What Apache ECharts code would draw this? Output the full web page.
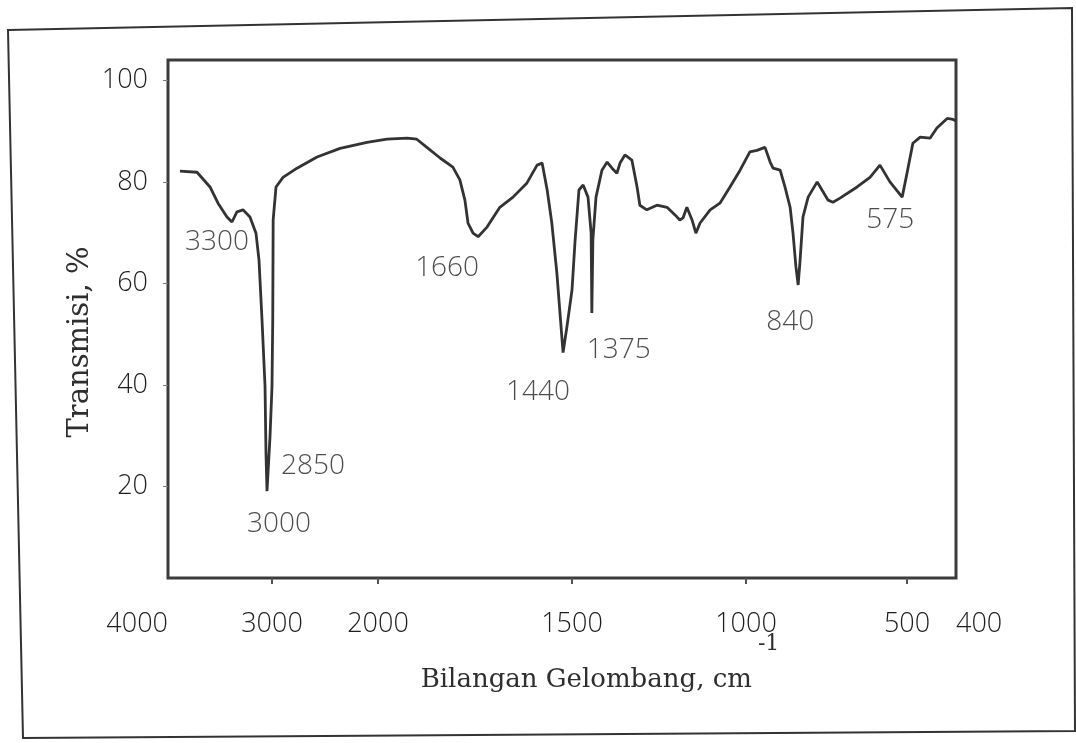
<!DOCTYPE html>
<html>
<head>
<meta charset="utf-8">
<title>Spektrum IR</title>
<script src="https://cdn.jsdelivr.net/npm/echarts@6.0.0/dist/echarts.min.js"></script>
<style>
  html, body { margin: 0; padding: 0; background: #fff; }
  #chart { width: 1076px; height: 743px; }
</style>
</head>
<body>
<div id="chart"></div>
<script>
// 数据：波数 (cm-1) 与透过率 (%)
const waveNumbers = [3885, 3721, 3596, 3519, 3433, 3385, 3337, 3279, 3212, 3154, 3125, 3096, 3067, 3058, 3048, 3019, 3000, 2993, 2989, 2962, 2896, 2764, 2575, 2358, 2104, 1977, 1925, 1900, 1874, 1840, 1807, 1789, 1776, 1768, 1755, 1742, 1719, 1686, 1652, 1616, 1590, 1577, 1564, 1552, 1539, 1531, 1523, 1513, 1500, 1491, 1480, 1468, 1454, 1445, 1443, 1440, 1431, 1414, 1399, 1385, 1371, 1362, 1348, 1328, 1313, 1305, 1285, 1256, 1227, 1204, 1190, 1181, 1170, 1155, 1144, 1132, 1103, 1075, 1046, 1017, 988, 966, 941, 925, 916, 894, 879, 863, 854, 845, 838, 832, 823, 807, 779, 764, 745, 730, 708, 655, 615, 584, 553, 515, 500, 488, 473, 453, 439, 418, 406, 400];
const transmittance = [82.1, 81.9, 79.0, 75.8, 73.1, 72.1, 74.1, 74.5, 73.1, 69.9, 64.6, 52.8, 39.7, 26.7, 19.1, 29.9, 39.7, 52.8, 72.5, 79.0, 80.9, 82.7, 84.9, 86.6, 87.8, 88.4, 88.6, 88.4, 86.8, 84.7, 82.9, 80.4, 76.4, 71.9, 69.9, 69.2, 71.1, 75.0, 77.0, 79.8, 83.3, 83.7, 78.4, 71.9, 62.1, 54.2, 46.4, 51.5, 58.7, 68.6, 78.4, 79.4, 77.0, 69.9, 54.2, 68.6, 77.0, 82.3, 83.9, 82.7, 81.7, 83.7, 85.3, 84.3, 79.0, 75.4, 74.5, 75.4, 75.0, 73.5, 72.5, 72.9, 75.0, 72.5, 69.9, 71.9, 74.5, 75.8, 79.0, 82.3, 85.9, 86.2, 86.8, 83.9, 82.7, 82.3, 79.0, 75.0, 69.9, 63.3, 59.7, 64.6, 73.1, 77.0, 80.0, 78.4, 76.4, 76.0, 76.8, 79.0, 80.9, 83.3, 80.0, 77.0, 81.7, 87.6, 88.8, 88.6, 90.6, 92.5, 92.3, 92.0];

// 峰的标注
const peakLabels = ['3300', '3000', '2850', '1660', '1440', '1375', '840', '575'];
const peakWaves = [3385, 3048, 3048, 1742, 1523, 1443, 838, 515];
const peakValues = [72.1, 19.1, 19.1, 69.2, 46.4, 54.2, 59.7, 77.0];

// 坐标轴刻度
const xTickLabels = [4000, 3000, 2000, 1500, 1000, 500, 400];
const yTickLabels = [20, 40, 60, 80, 100];

// 手绘横轴不是线性的：每个刻度在轴上的位置 (分段线性)
const xTickPos = [0, 104, 210, 404, 578, 739, 788];
// 标注文字相对峰的偏移
const peakOffsets = [[-15, 20], [12, 33], [46, -25], [-31, 31], [-25, 40], [27, 37], [-8, 37], [-12, 23]];

const waveToPos = (w) => {
  for (let i = 0; i < xTickLabels.length - 1; i++) {
    let a = xTickLabels[i], b = xTickLabels[i + 1];
    if (w <= a && w >= b) {
      return xTickPos[i] + (a - w) / (a - b) * (xTickPos[i + 1] - xTickPos[i]);
    }
  }
  return w > xTickLabels[0] ? 0 : xTickPos[xTickPos.length - 1];
};

const labelFont = 'Open Sans';
const textColor = '#1e1e1e';
const titleFont = 'DejaVu Serif';

let chart = echarts.init(document.getElementById('chart'), null, { renderer: 'canvas' });

let lineData = waveNumbers.map((w, i) => [waveToPos(w), transmittance[i]]);
let peakData = peakWaves.map((w, i) => ({
  name: peakLabels[i],
  value: [waveToPos(w), peakValues[i]],
  label: { offset: peakOffsets[i] }
}));

let option = {
  backgroundColor: '#fff',
  animation: false,
  grid: {
    left: 168,
    right: 120,
    top: 60,
    bottom: 165,
    show: true,
    borderColor: '#3c3c3c',
    borderWidth: 3,
    backgroundColor: 'transparent'
  },
  xAxis: {
    type: 'value',
    min: 0,
    max: xTickPos[xTickPos.length - 1],
    name: '{main|Bilangan Gelombang, cm}{sup|-1}',
    nameLocation: 'middle',
    nameGap: 85.5,
    nameMoveOverlap: false,
    nameTextStyle: {
      padding: [0, 0, 0, 76],
      rich: {
        main: { fontFamily: titleFont, fontSize: 26, color: '#2e2e2e', lineHeight: 30, verticalAlign: 'bottom' },
        sup: { fontFamily: titleFont, fontSize: 22, color: '#2e2e2e', lineHeight: 24, verticalAlign: 'bottom', padding: [0, 0, 38, 6] }
      }
    },
    axisLine: { show: false },
    splitLine: { show: false },
    axisTick: {
      show: true,
      length: 6,
      lineStyle: { color: '#555', width: 2 },
      customValues: xTickPos.slice(1, -1)
    },
    axisLabel: {
      margin: 33,
      fontFamily: labelFont,
      fontWeight: 300,
      fontSize: 27,
      color: textColor,
      customValues: xTickPos,
      alignMinLabel: 'right',
      alignMaxLabel: 'left',
      formatter: (v) => {
        let i = xTickPos.findIndex((p) => Math.abs(p - v) < 0.01);
        return i >= 0 ? String(xTickLabels[i]) : '';
      }
    }
  },
  yAxis: {
    type: 'value',
    min: 2,
    max: 104,
    name: 'Transmisi, %',
    nameLocation: 'middle',
    nameGap: 73,
    nameMoveOverlap: false,
    nameTextStyle: {
      fontFamily: titleFont,
      fontSize: 29,
      color: '#2e2e2e',
      padding: [0, 46, 0, 0]
    },
    axisLine: { show: false },
    splitLine: { show: false },
    axisTick: {
      show: true,
      length: 5,
      lineStyle: { color: '#777', width: 1 },
      customValues: yTickLabels
    },
    axisLabel: {
      margin: 20,
      fontFamily: labelFont,
      fontWeight: 300,
      fontSize: 27,
      color: textColor,
      customValues: yTickLabels
    }
  },
  graphic: [
    {
      // 外框
      type: 'polygon',
      silent: true,
      shape: { points: [[8, 30], [1072, 8], [1075, 731], [23, 738]] },
      style: { fill: null, stroke: '#333', lineWidth: 2 }
    }
  ],
  series: [
    {
      name: 'Transmisi',
      type: 'line',
      data: lineData,
      showSymbol: false,
      smooth: false,
      lineStyle: { color: '#333', width: 2.8 },
      z: 3
    },
    {
      name: 'Puncak',
      type: 'scatter',
      data: peakData,
      symbolSize: 0,
      label: {
        show: true,
        position: 'inside',
        formatter: (p) => p.name,
        fontFamily: labelFont,
        fontWeight: 300,
        fontSize: 28,
        color: '#1e1e1e'
      },
      z: 4
    }
  ]
};

chart.setOption(option);
</script>
</body>
</html>
